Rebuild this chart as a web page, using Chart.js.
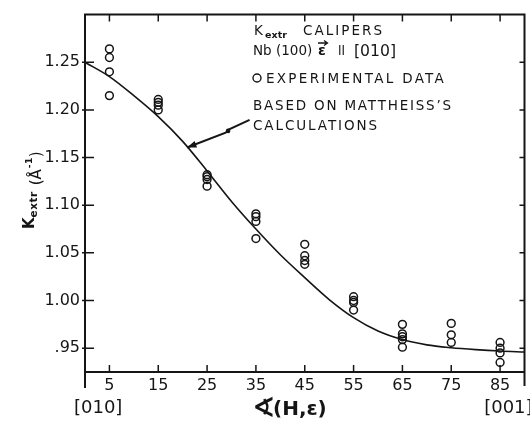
<!DOCTYPE html>
<html>
<head>
<meta charset="utf-8">
<script src="https://cdn.jsdelivr.net/npm/chart.js@4.4.1/dist/chart.umd.min.js"></script>
<style>
  html, body { margin: 0; padding: 0; background: #fff; }
  #wrap { width: 530px; height: 425px; }
</style>
</head>
<body>
<div id="wrap"><canvas id="chart" width="530" height="425"></canvas></div>
<script>
  const angles = [5, 15, 25, 35, 45, 55, 65, 75, 85];
  const measuredK = [
    [1.264, 1.255, 1.240, 1.215],
    [1.211, 1.208, 1.205, 1.200],
    [1.132, 1.130, 1.127, 1.120],
    [1.091, 1.088, 1.083, 1.065],
    [1.059, 1.047, 1.042, 1.038],
    [1.004, 1.000, 0.998, 0.990],
    [0.975, 0.965, 0.962, 0.959, 0.951],
    [0.976, 0.964, 0.956],
    [0.956, 0.950, 0.945, 0.935]
  ];

  // curve based on Mattheiss's calculations
  const curveAngles = [0, 5, 10, 15, 20, 25, 30, 35, 40, 45, 50, 55, 60, 65, 70, 75, 80, 85, 90];
  const curveK = [1.250, 1.235, 1.215, 1.193, 1.167, 1.136, 1.104, 1.075, 1.048, 1.024, 1.001, 0.982,
    0.968, 0.959, 0.9535, 0.9505, 0.9485, 0.947, 0.946];

  const xTicks = [5, 15, 25, 35, 45, 55, 65, 75, 85];
  const yTicks = [0.95, 1.00, 1.05, 1.10, 1.15, 1.20, 1.25];

  // arrow from the label to the curve, in data coordinates
  const arrowPath = [[33.7, 1.1895], [29.3, 1.179], [28.8, 1.176], [20.9, 1.1605]];

  const ink = '#151515';
  const font = 'DejaVu Sans, sans-serif';

  const points = [];
  angles.forEach((a, i) => {
    measuredK[i].forEach((k) => points.push({ x: a, y: k }));
  });

  // write a string so that it spans a given width (squeezed if too wide)
  function spread(ctx, s, x, y, w) {
    ctx.letterSpacing = '0px';
    const natural = ctx.measureText(s).width;
    if (natural >= w) {
      ctx.fillText(s, x, y, w);
      return;
    }
    ctx.letterSpacing = `${(w - natural) / (s.length - 0.5)}px`;
    ctx.fillText(s, x, y);
    ctx.letterSpacing = '0px';
  }

  const frame = {
    id: 'frame',
    afterDraw(chart) {
      const { ctx, chartArea: area, scales } = chart;
      const { left, right, top, bottom } = area;
      ctx.save();
      ctx.strokeStyle = ink;
      ctx.fillStyle = ink;
      ctx.lineCap = 'butt';

      // spines
      ctx.lineWidth = 2;
      ctx.beginPath();
      ctx.moveTo(left, top); ctx.lineTo(right, top);
      ctx.moveTo(left, bottom); ctx.lineTo(right, bottom);
      ctx.moveTo(left, top - 1); ctx.lineTo(left, bottom + 16);
      ctx.moveTo(right, top - 1); ctx.lineTo(right, bottom + 14);
      ctx.stroke();

      // inward ticks
      ctx.lineWidth = 1.5;
      ctx.beginPath();
      xTicks.forEach((t) => {
        const px = scales.x.getPixelForValue(t);
        ctx.moveTo(px, bottom); ctx.lineTo(px, bottom - 7);
        ctx.moveTo(px, top); ctx.lineTo(px, top + 7);
      });
      yTicks.forEach((t) => {
        const py = scales.y.getPixelForValue(t);
        ctx.moveTo(left - 3, py); ctx.lineTo(left + 9, py);
        ctx.moveTo(right, py); ctx.lineTo(right - 5, py);
      });
      ctx.stroke();

      // arrow
      const pts = arrowPath.map(([a, k]) => [scales.x.getPixelForValue(a), scales.y.getPixelForValue(k)]);
      ctx.lineWidth = 2;
      ctx.beginPath();
      pts.forEach(([px, py], i) => (i ? ctx.lineTo(px, py) : ctx.moveTo(px, py)));
      ctx.stroke();
      ctx.beginPath();
      ctx.arc(pts[1][0], pts[1][1] + 1, 2.3, 0, Math.PI * 2);
      ctx.fill();
      const [hx, hy] = pts[pts.length - 1];
      const [px0, py0] = pts[pts.length - 2];
      const ang = Math.atan2(hy - py0, hx - px0);
      ctx.beginPath();
      ctx.moveTo(hx, hy);
      ctx.lineTo(hx - 10 * Math.cos(ang - 0.35), hy - 10 * Math.sin(ang - 0.35));
      ctx.lineTo(hx - 10 * Math.cos(ang + 0.35), hy - 10 * Math.sin(ang + 0.35));
      ctx.closePath();
      ctx.fill();

      // annotation block
      ctx.textBaseline = 'alphabetic';
      ctx.textAlign = 'left';
      ctx.font = `13.5px ${font}`;
      ctx.fillText('K', 254, 35);
      ctx.font = `bold 9.5px ${font}`;
      spread(ctx, 'extr', 265, 38, 22);
      ctx.font = `13.5px ${font}`;
      spread(ctx, 'CALIPERS', 303, 35, 80);

      ctx.fillText('Nb (100)', 253, 55);
      ctx.font = `bold 14px ${font}`;
      ctx.fillText('ε', 318, 55);
      ctx.lineWidth = 1.3;
      ctx.beginPath();
      ctx.moveTo(318, 43); ctx.lineTo(327, 43);
      ctx.moveTo(324, 40.5); ctx.lineTo(327.5, 43); ctx.lineTo(324, 45.5);
      ctx.stroke();
      ctx.font = `14px ${font}`;
      spread(ctx, 'II', 338, 55, 7);
      ctx.font = `16px ${font}`;
      spread(ctx, '[010]', 354, 56, 42);

      ctx.font = `13.5px ${font}`;
      ctx.lineWidth = 1.4;
      ctx.beginPath();
      ctx.arc(257, 78, 4, 0, Math.PI * 2);
      ctx.stroke();
      spread(ctx, 'EXPERIMENTAL DATA', 266, 83, 179);
      spread(ctx, 'BASED ON MATTHEISS\u2019S', 253, 110, 199);
      spread(ctx, 'CALCULATIONS', 253, 130, 125);

      // x-axis captions
      ctx.textBaseline = 'middle';
      ctx.textAlign = 'center';
      ctx.font = `18px ${font}`;
      ctx.fillText('[010]', scales.x.getPixelForValue(2.7), bottom + 36);
      ctx.fillText('[001]', scales.x.getPixelForValue(86.7), bottom + 36);
      ctx.textAlign = 'left';
      ctx.font = `bold 28px ${font}`;
      const ax = scales.x.getPixelForValue(34.2);
      ctx.fillText('\u2222', ax, bottom + 38);
      ctx.font = `bold 20px ${font}`;
      ctx.fillText('(H,\u03b5)', ax + 21, bottom + 38);

      // y-axis caption, rotated
      ctx.translate(34, 229);
      ctx.rotate(-Math.PI / 2);
      ctx.textBaseline = 'alphabetic';
      ctx.textAlign = 'left';
      let cx = 0;
      const put = (s, f, dy, gap = 0) => {
        ctx.font = f;
        ctx.letterSpacing = `${gap}px`;
        ctx.fillText(s, cx, dy);
        cx += ctx.measureText(s).width;
      };
      put('K', `bold 15px ${font}`, 0);
      put('extr', `bold 10.5px ${font}`, 3, 0.5);
      cx += 6;
      put('(', `15px ${font}`, 7);
      put('\u00c5', `15px ${font}`, 7, 1);
      put('-1', `bold 9px ${font}`, -2, 0.5);
      put(')', `15px ${font}`, 7);
      ctx.restore();
    }
  };

  new Chart(document.getElementById('chart'), {
    type: 'scatter',
    data: {
      datasets: [
        {
          label: 'Experimental data',
          data: points,
          pointStyle: 'circle',
          pointRadius: 3.9,
          borderWidth: 1.5,
          borderColor: ink,
          backgroundColor: 'rgba(0,0,0,0)'
        },
        {
          label: "Based on Mattheiss's calculations",
          data: curveAngles.map((a, i) => ({ x: a, y: curveK[i] })),
          showLine: true,
          pointRadius: 0,
          borderWidth: 1.6,
          borderColor: ink,
          cubicInterpolationMode: 'monotone'
        }
      ]
    },
    options: {
      responsive: false,
      animation: false,
      layout: { padding: { top: 10, right: 3, left: 0, bottom: 0 } },
      plugins: { legend: { display: false }, tooltip: { enabled: false } },
      scales: {
        x: {
          type: 'linear',
          min: 0,
          max: 90,
          afterFit: (s) => { s.height = 53; },
          afterBuildTicks: (s) => { s.ticks = xTicks.map((v) => ({ value: v })); },
          grid: { display: false, drawTicks: false },
          border: { display: false },
          ticks: { color: ink, font: { family: font, size: 16 }, padding: 4, maxRotation: 0 }
        },
        y: {
          type: 'linear',
          min: 0.925,
          max: 1.30,
          afterFit: (s) => { s.width = 85; },
          afterBuildTicks: (s) => { s.ticks = yTicks.map((v) => ({ value: v })); },
          grid: { display: false, drawTicks: false },
          border: { display: false },
          ticks: {
            color: ink,
            font: { family: font, size: 16 },
            padding: 5,
            callback: (v) => (v < 1 ? v.toFixed(2).slice(1) : v.toFixed(2))
          }
        }
      }
    },
    plugins: [frame]
  });
</script>
</body>
</html>
